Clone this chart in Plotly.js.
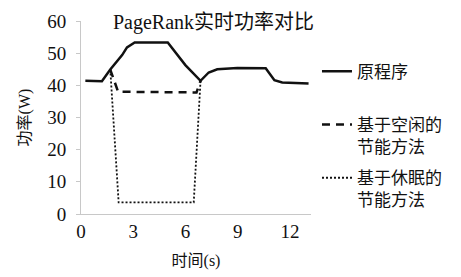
<!DOCTYPE html>
<html>
<head>
<meta charset="utf-8">
<script src="https://cdn.plot.ly/plotly-3.0.1.min.js"></script>
<style>html,body{margin:0;padding:0;background:#fff;}#chart{width:461px;height:277px;}</style>
</head>
<body>
<div id="chart"></div>
<script>
// Data
const seriesNames = ["原程序<br> ", "基于空闲的<br>节能方法", "基于休眠的<br>节能方法"];
const origTime  = [0.25, 1.2, 1.68, 2.36, 2.64, 3.08, 4.98, 5.99, 6.86, 7.33, 7.82, 8.97, 10.6, 11.1, 11.55, 13.06];
const origPower = [41.4, 41.3, 44.9, 49.4, 51.8, 53.3, 53.3, 46.3, 41.4, 44.0, 45.0, 45.4, 45.3, 41.6, 40.9, 40.6];
const idleTime  = [1.68, 2.13, 6.63, 6.86];
const idlePower = [44.9, 38.0, 37.8, 41.4];
const sleepTime  = [1.68, 2.16, 6.47, 6.86];
const sleepPower = [44.9, 3.6, 3.6, 41.4];
const xTicks = [0, 3, 6, 9, 12];
const yTicks = [0, 10, 20, 30, 40, 50, 60];

const serif = "Liberation Serif, Noto Sans CJK SC";
const numFont = "Liberation Serif";

const traces = [
  {x: origTime, y: origPower, name: seriesNames[0], mode: "lines",
   line: {color: "#111", width: 2.5}, legendgroup: "a"},
  {x: idleTime, y: idlePower, name: seriesNames[1], mode: "lines",
   line: {color: "#111", width: 2.5, dash: "8px,6px"}, legendgroup: "b"},
  {x: sleepTime, y: sleepPower, name: seriesNames[2], mode: "lines",
   line: {color: "#111", width: 1.8, dash: "2px,2px"}, legendgroup: "c"}
];

const layout = {
  width: 461, height: 277,
  margin: {l: 81, r: 150, t: 21, b: 63},
  paper_bgcolor: "#fff", plot_bgcolor: "#fff",
  font: {family: serif, color: "#111", size: 16},
  title: {text: "PageRank实时功率对比", font: {family: serif, size: 20, color: "#111"},
          xref: "container", x: 213.5/461, xanchor: "center",
          yref: "container", y: 1 - 22/277, yanchor: "middle"},
  xaxis: {range: [0, 13.2], tickvals: xTicks, showgrid: false, zeroline: false,
          showline: true, linecolor: "#c8c8c8", linewidth: 1, ticks: "",
          tickfont: {size: 19, family: numFont, color: "#111"},
          title: {text: "时间(s)", font: {size: 16, family: serif, color: "#111"}, standoff: 14}},
  yaxis: {range: [0, 60], tickvals: yTicks, showgrid: false, zeroline: false,
          showline: true, linecolor: "#c8c8c8", linewidth: 1, ticks: "outside", ticklen: 4,
          tickcolor: "#c8c8c8", ticklabelstandoff: 6,
          tickfont: {size: 19, family: numFont, color: "#111"},
          title: {text: "功率(W)", font: {size: 16, family: serif, color: "#111"}, standoff: 12}},
  showlegend: true,
  legend: {x: 1.026, xanchor: "left", y: 0.83, yanchor: "top", valign: "top",
           font: {size: 17, family: serif, color: "#111"}, tracegroupgap: 6,
           bgcolor: "rgba(0,0,0,0)", borderwidth: 0}
};

Plotly.newPlot("chart", traces, layout, {displayModeBar: false, staticPlot: true});
</script>
</body>
</html>
